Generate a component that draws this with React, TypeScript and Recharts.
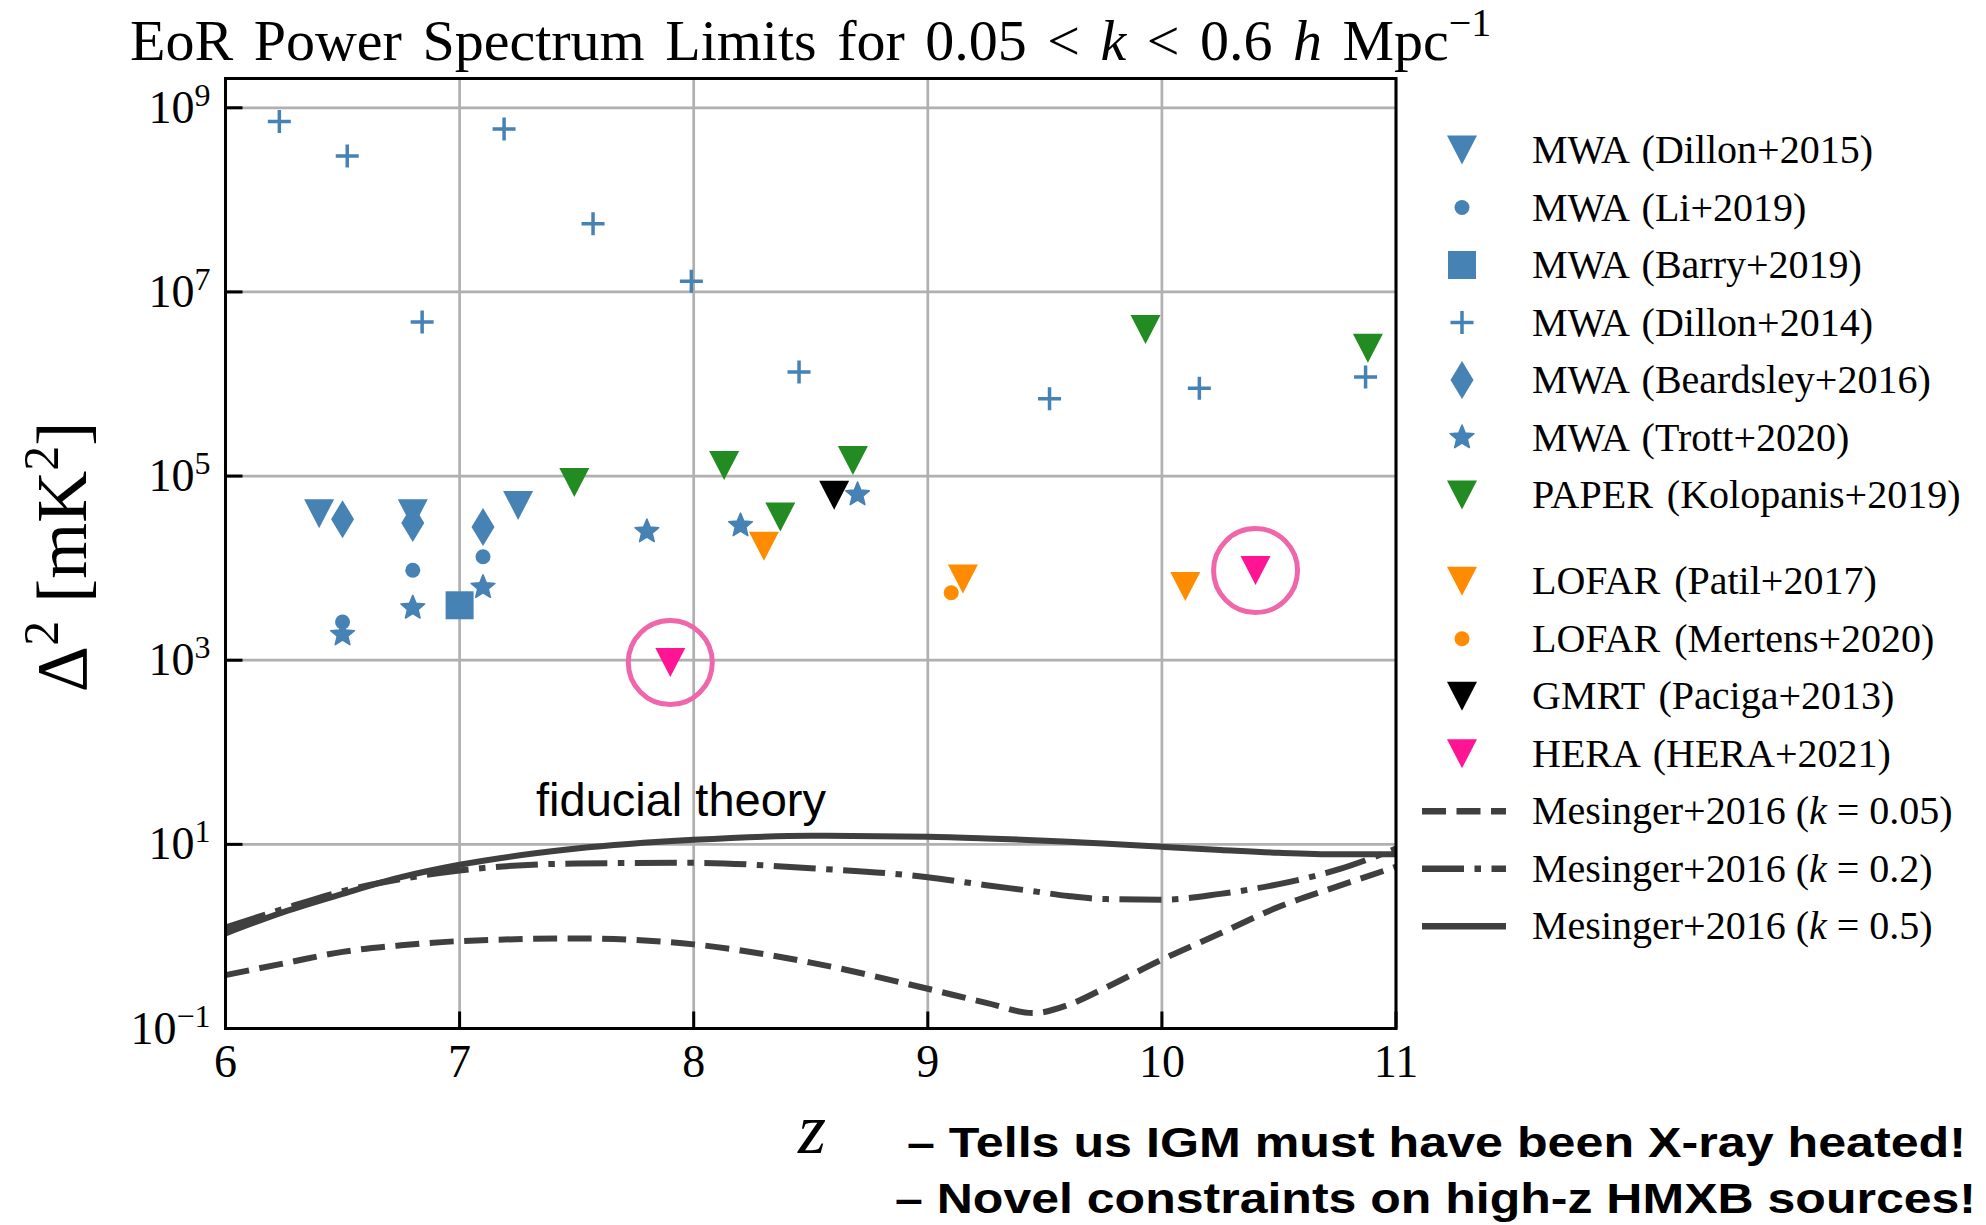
import { ComposedChart, Scatter, Line, XAxis, YAxis, CartesianGrid, ReferenceDot } from 'recharts'

const W = 1986
const H = 1225
// plot box in page pixels
const PLOT = { left: 225.5, right: 1396, top: 78.5, bottom: 1028.5 }
const Y_AXIS_W = 150
const X_AXIS_H = 70

const SERIF = '"Liberation Serif", "DejaVu Serif", serif'
const SANS = '"Liberation Sans", Arial, Helvetica, sans-serif'

const BLUE = '#4682b4'
const GREEN = '#228b22'
const ORANGE = '#ff8c00'
const PINK = '#ff1493'
const RING = '#f066aa'
const THEORY = '#3f3f3f'

// upper limits on Δ² [mK²] vs redshift z
const dillon15Z = [6.4, 6.8, 7.25]
const dillon15V = [3.9e4, 3.9e4, 4.8e4]

const li19Z = [6.5, 6.8, 7.1]
const li19V = [2.6e3, 9.5e3, 1.33e4]

const barry19Z = [7.0]
const barry19V = [3.95e3]

const dillon14Z = [6.23, 6.52, 6.84, 7.19, 7.57, 7.99, 8.45, 9.52, 10.16, 10.87]
const dillon14V = [7.1e8, 3.0e8, 4.7e6, 5.9e8, 5.5e7, 1.31e7, 1.35e6, 6.9e5, 9.0e5, 1.19e6]

const beardsley16Z = [6.5, 6.8, 7.1]
const beardsley16V = [3.4e4, 3.1e4, 2.8e4]

const trott20Z = [6.5, 6.8, 7.1, 7.8, 8.2, 8.7]
const trott20V = [1.9e3, 3.7e3, 6.2e3, 2.5e4, 2.9e4, 6.3e4]

const paperZ = [7.49, 8.13, 8.37, 8.68, 9.93, 10.88]
const paperV = [8.5e4, 1.3e5, 3.6e4, 1.48e5, 3.9e6, 2.45e6]

const patil17Z = [8.3, 9.15, 10.1]
const patil17V = [1.73e4, 7.6e3, 6.3e3]

const mertens20Z = [9.1]
const mertens20V = [5.4e3]

const gmrtZ = [8.6]
const gmrtV = [6.2e4]

const heraZ = [7.9, 10.4]
const heraV = [945, 9400]

// Mesinger+2016 fiducial model
const theoryZ = [6, 6.25, 6.5, 6.75, 7, 7.5, 8, 8.5, 9, 9.25, 9.45, 9.6, 9.75, 10, 10.25, 10.5, 10.75, 11]
const theoryK005 = [0.38, 0.51, 0.68, 0.8, 0.89, 0.95, 0.82, 0.52, 0.27, 0.19, 0.147, 0.18, 0.27, 0.56, 1.08, 2.1, 3.5, 5.7]
const theoryK02 = [1.25, 2.0, 3.1, 4.2, 5.2, 6.2, 6.3, 5.5, 4.4, 3.6, 3.1, 2.75, 2.55, 2.5, 2.9, 3.7, 5.3, 9.0]
const theoryK05 = [1.08, 1.85, 2.9, 4.4, 6.0, 9.0, 11.2, 12.4, 12.1, 11.6, 11.1, 10.7, 10.2, 9.4, 8.7, 8.1, 7.8, 7.8]

const xTicks = [6, 7, 8, 9, 10, 11]
const yTicks = [1e-1, 1e1, 1e3, 1e5, 1e7, 1e9]
const Y_MIN = 1e-1
const Y_MAX = 2.08e9

const pts = (z: number[], v: number[]) => z.map((zz, i) => ({ z: zz, v: v[i] }))

type Kind = 'tri' | 'circle' | 'square' | 'plus' | 'diamond' | 'star'

const markerSeries: { name: string; kind: Kind; color: string; z: number[]; v: number[] }[] = [
  { name: 'MWA (Dillon+2015)', kind: 'tri', color: BLUE, z: dillon15Z, v: dillon15V },
  { name: 'MWA (Li+2019)', kind: 'circle', color: BLUE, z: li19Z, v: li19V },
  { name: 'MWA (Barry+2019)', kind: 'square', color: BLUE, z: barry19Z, v: barry19V },
  { name: 'MWA (Dillon+2014)', kind: 'plus', color: BLUE, z: dillon14Z, v: dillon14V },
  { name: 'MWA (Beardsley+2016)', kind: 'diamond', color: BLUE, z: beardsley16Z, v: beardsley16V },
  { name: 'MWA (Trott+2020)', kind: 'star', color: BLUE, z: trott20Z, v: trott20V },
  { name: 'PAPER (Kolopanis+2019)', kind: 'tri', color: GREEN, z: paperZ, v: paperV },
  { name: 'LOFAR (Patil+2017)', kind: 'tri', color: ORANGE, z: patil17Z, v: patil17V },
  { name: 'LOFAR (Mertens+2020)', kind: 'circle', color: ORANGE, z: mertens20Z, v: mertens20V },
  { name: 'GMRT (Paciga+2013)', kind: 'tri', color: '#000000', z: gmrtZ, v: gmrtV },
  { name: 'HERA (HERA+2021)', kind: 'tri', color: PINK, z: heraZ, v: heraV },
]

const theorySeries = [
  { k: '0.05', v: theoryK005, dash: '24 10.5' },
  { k: '0.2', v: theoryK02, dash: '42 10.5 6.5 10.5' },
  { k: '0.5', v: theoryK05, dash: undefined as string | undefined },
]

function Glyph({ kind, color, cx, cy }: { kind: Kind; color: string; cx: number; cy: number }) {
  switch (kind) {
    case 'tri':
      return <polygon points={`${cx - 15},${cy - 14.5} ${cx + 15},${cy - 14.5} ${cx},${cy + 14.5}`} fill={color} />
    case 'circle':
      return <circle cx={cx} cy={cy} r={7.5} fill={color} />
    case 'square':
      return <rect x={cx - 14} y={cy - 14} width={28} height={28} fill={color} />
    case 'plus':
      return (
        <path d={`M${cx - 11.5},${cy}H${cx + 11.5}M${cx},${cy - 11.5}V${cy + 11.5}`} stroke={color} strokeWidth={3.5} />
      )
    case 'diamond':
      return <polygon points={`${cx},${cy - 19} ${cx + 11.5},${cy} ${cx},${cy + 19} ${cx - 11.5},${cy}`} fill={color} />
    case 'star': {
      const p: string[] = []
      for (let i = 0; i < 10; i++) {
        const r = i % 2 === 0 ? 12.5 : 5.6
        const a = -Math.PI / 2 + (i * Math.PI) / 5
        p.push(`${cx + r * Math.cos(a)},${cy + r * Math.sin(a)}`)
      }
      return <polygon points={p.join(' ')} fill={color} strokeLinejoin="round" stroke={color} strokeWidth={1.5} />
    }
  }
  return null
}

// ticks point into the plot; labels sit outside
const XTick = ({ x, payload }: any) => (
  <g>
    <line x1={x} x2={x} y1={PLOT.bottom} y2={PLOT.bottom - 17} stroke="#000" strokeWidth={3} />
    <text x={x} y={PLOT.bottom + 48} textAnchor="middle" fontFamily={SERIF} fontSize={46} fill="#000">
      {payload.value}
    </text>
  </g>
)

const YTick = ({ y, payload }: any) => {
  const exp = Math.round(Math.log10(payload.value))
  return (
    <g>
      <line x1={PLOT.left} x2={PLOT.left + 17} y1={y} y2={y} stroke="#000" strokeWidth={3} />
      <text x={PLOT.left - 15} y={y + 15} textAnchor="end" fontFamily={SERIF} fontSize={46} fill="#000">
        10
        <tspan dy={-17} fontSize={32}>
          {exp < 0 ? `\u2212${-exp}` : String(exp)}
        </tspan>
      </text>
    </g>
  )
}

const LEG_X = 1462
const LEG_TEXT_X = 1532
const rowY = (i: number) => 150 + (i + (i >= 7 ? 0.5 : 0)) * 57.5

function LegendBox() {
  return (
    <g fontFamily={SERIF} fontSize={40} fill="#000">
      {markerSeries.map((s, i) => (
        <g key={s.name}>
          <Glyph kind={s.kind} color={s.color} cx={LEG_X} cy={rowY(i)} />
          <text x={LEG_TEXT_X} y={rowY(i) + 13} wordSpacing={4}>
            {s.name}
          </text>
        </g>
      ))}
      {theorySeries.map((t, j) => {
        const y = rowY(markerSeries.length + j)
        return (
          <g key={t.k}>
            <line x1={1422} x2={1506} y1={y} y2={y} stroke={THEORY} strokeWidth={6.5} strokeDasharray={t.dash} />
            <text x={LEG_TEXT_X} y={y + 13}>
              {'Mesinger+2016 ('}
              <tspan fontStyle="italic">k</tspan>
              {` = ${t.k})`}
            </text>
          </g>
        )
      })}
    </g>
  )
}

export default function App() {
  return (
    <div style={{ position: 'absolute', left: 0, top: 0, width: W, height: H, background: '#fff' }}>
      <ComposedChart
        width={W}
        height={H}
        margin={{
          top: PLOT.top,
          right: W - PLOT.right,
          bottom: H - PLOT.bottom - X_AXIS_H,
          left: PLOT.left - Y_AXIS_W,
        }}
      >
        <CartesianGrid stroke="#b0b0b0" strokeWidth={2.7} />
        <XAxis
          type="number"
          dataKey="z"
          domain={[6, 11]}
          ticks={xTicks}
          interval={0}
          allowDataOverflow
          height={X_AXIS_H}
          axisLine={false}
          tickLine={false}
          tick={<XTick />}
        />
        <YAxis
          type="number"
          dataKey="v"
          scale="log"
          domain={[Y_MIN, Y_MAX]}
          ticks={yTicks}
          interval={0}
          allowDataOverflow
          width={Y_AXIS_W}
          axisLine={false}
          tickLine={false}
          tick={<YTick />}
        />
        {theorySeries.map((t) => (
          <Line
            key={t.k}
            data={pts(theoryZ, t.v)}
            dataKey="v"
            type="monotone"
            stroke={THEORY}
            strokeWidth={6}
            strokeDasharray={t.dash}
            dot={false}
            activeDot={false}
            isAnimationActive={false}
          />
        ))}
        {markerSeries.map((s) => (
          <Scatter
            key={s.name}
            data={pts(s.z, s.v)}
            dataKey="v"
            isAnimationActive={false}
            shape={(p: any) => <Glyph kind={s.kind} color={s.color} cx={p.cx} cy={p.cy} />}
          />
        ))}
        {heraZ.map((z, i) => (
          <ReferenceDot key={z} x={z} y={heraV[i]} r={42} fill="none" stroke={RING} strokeWidth={5} />
        ))}
      </ComposedChart>

      <svg width={W} height={H} style={{ position: 'absolute', left: 0, top: 0, pointerEvents: 'none' }}>
        <rect
          x={PLOT.left}
          y={PLOT.top}
          width={PLOT.right - PLOT.left}
          height={PLOT.bottom - PLOT.top}
          fill="none"
          stroke="#000"
          strokeWidth={3}
        />
        <text x={(PLOT.left + PLOT.right) / 2} y={59.5} textAnchor="middle" fontFamily={SERIF} fontSize={58} wordSpacing={6}>
          {'EoR Power Spectrum Limits for 0.05 < '}
          <tspan fontStyle="italic">k</tspan>
          {' < 0.6 '}
          <tspan fontStyle="italic">h</tspan>
          {' Mpc'}
          <tspan dy={-24} fontSize={40}>
            {'\u22121'}
          </tspan>
        </text>
        <text transform="rotate(-90 86 557)" x={86} y={557} textAnchor="middle" fontFamily={SERIF} fontSize={72}>
          Δ
          <tspan dy={-28} fontSize={50}>
            2
          </tspan>
          <tspan dy={28}>{' [mK'}</tspan>
          <tspan dy={-28} fontSize={50}>
            2
          </tspan>
          <tspan dy={28}>]</tspan>
        </text>
        <text x={812} y={1153} textAnchor="middle" fontFamily={SERIF} fontStyle="italic" fontSize={72}>
          z
        </text>
        <text x={536} y={816} fontFamily={SANS} fontSize={47}>
          fiducial theory
        </text>
        <LegendBox />
        <text x={907} y={1157} fontFamily={SANS} fontWeight="bold" fontSize={43} textLength={1059} lengthAdjust="spacingAndGlyphs">
          – Tells us IGM must have been X-ray heated!
        </text>
        <text x={895} y={1213} fontFamily={SANS} fontWeight="bold" fontSize={43} textLength={1081} lengthAdjust="spacingAndGlyphs">
          – Novel constraints on high-z HMXB sources!
        </text>
      </svg>
    </div>
  )
}
